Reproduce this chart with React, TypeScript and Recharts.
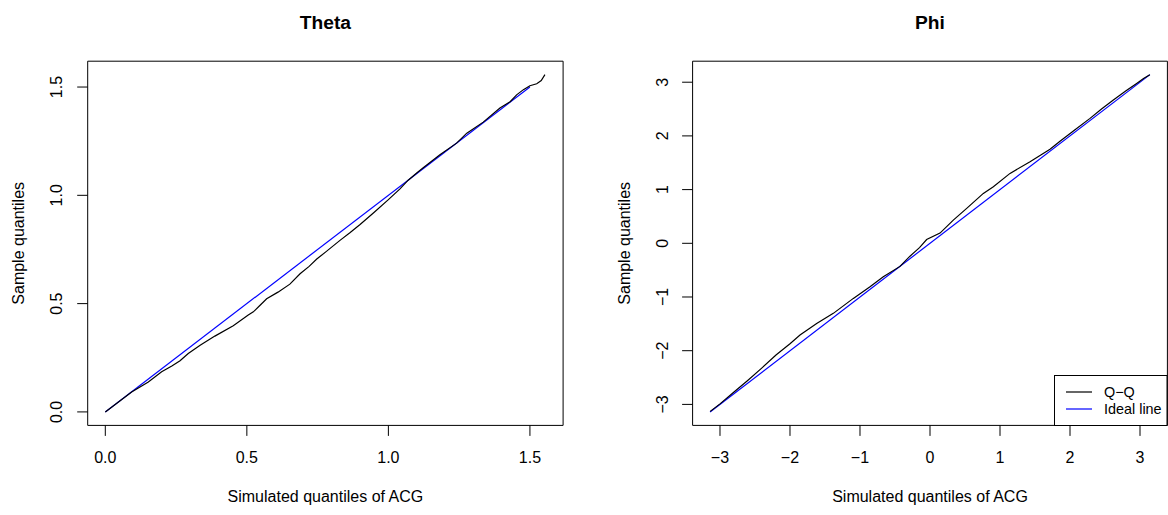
import React from 'react';
import { LineChart, Line, XAxis, YAxis, ReferenceArea } from 'recharts';

// ---- Theta panel data (simulated quantiles of ACG vs sample quantiles) ----
const thetaSim = [0, 0.05, 0.093, 0.152, 0.199, 0.235, 0.264, 0.293, 0.335, 0.387, 0.452, 0.505, 0.523, 0.545, 0.57, 0.61, 0.652, 0.688, 0.72, 0.747, 0.78, 0.829, 0.864, 0.9, 0.95, 1.0, 1.041, 1.07, 1.1, 1.123, 1.182, 1.241, 1.277, 1.335, 1.394, 1.43, 1.453, 1.477, 1.5, 1.524, 1.54, 1.553];
const thetaSample = [0, 0.049, 0.092, 0.138, 0.185, 0.212, 0.236, 0.27, 0.308, 0.35, 0.398, 0.447, 0.462, 0.49, 0.522, 0.553, 0.59, 0.638, 0.672, 0.706, 0.74, 0.792, 0.827, 0.865, 0.922, 0.98, 1.03, 1.07, 1.103, 1.127, 1.187, 1.241, 1.287, 1.338, 1.403, 1.432, 1.464, 1.488, 1.506, 1.515, 1.53, 1.557];
const thetaIdeal = [0, 1.5];
const thetaTicks = [0, 0.5, 1, 1.5];

// ---- Phi panel data ----
const phiSim = [-3.14, -3.0, -2.8, -2.6, -2.4, -2.2, -2.0, -1.857, -1.619, -1.381, -1.095, -0.857, -0.667, -0.429, -0.286, -0.15, -0.048, 0.143, 0.333, 0.524, 0.762, 0.905, 1.143, 1.429, 1.6, 1.714, 1.857, 2.048, 2.286, 2.45, 2.619, 2.8, 2.952, 3.05, 3.14];
const phiSample = [-3.13, -2.99, -2.77, -2.55, -2.32, -2.08, -1.87, -1.709, -1.492, -1.305, -1.026, -0.81, -0.624, -0.43, -0.24, -0.08, 0.07, 0.19, 0.432, 0.65, 0.929, 1.052, 1.302, 1.518, 1.66, 1.75, 1.9, 2.09, 2.326, 2.5, 2.667, 2.84, 2.978, 3.07, 3.14];
const phiIdeal = [-3.1416, 3.1416];
const phiTicks = [-3, -2, -1, 0, 1, 2, 3];

const thetaXDomain: [number, number] = [-0.0622, 1.6172];
const thetaYDomain: [number, number] = [-0.0623, 1.6193];
const phiDomain: [number, number] = [-3.3912, 3.3912];

const FONT = '"Liberation Sans", Arial, Helvetica, sans-serif';

const thetaQQ = thetaSim.map((x, i) => ({ x, y: thetaSample[i] }));
const thetaLine = thetaIdeal.map((x) => ({ x, y: x }));
const phiQQ = phiSim.map((x, i) => ({ x, y: phiSample[i] }));
const phiLine = phiIdeal.map((x) => ({ x, y: x }));

const fmt1 = (v: number) => v.toFixed(1);
const fmtInt = (v: number) => (v < 0 ? '\u2212' + Math.abs(v) : String(v));

const makeXTick = (fmt: (v: number) => string) => (props: any) => {
  const { x, y, payload } = props;
  return (
    <text x={x} y={y + 27.3} textAnchor="middle" fontSize={16} fontFamily={FONT} fill="#000">
      {fmt(payload.value)}
    </text>
  );
};

const makeYTick = (fmt: (v: number) => string, off: number) => (props: any) => {
  const { x, y, payload } = props;
  return (
    <text
      transform={`translate(${x - off}, ${y}) rotate(-90)`}
      textAnchor="middle"
      fontSize={16}
      fontFamily={FONT}
      fill="#000"
    >
      {fmt(payload.value)}
    </text>
  );
};

const XAX_H = 30;
const YAX_W = 40;
const PLOT_TOP = 61.2;
const PLOT_BOTTOM = 425.4;

export default function App() {
  return (
    <div style={{ position: 'absolute', left: 0, top: 0, width: 1168, height: 515, background: '#fff' }}>
      <div style={{ position: 'absolute', left: 0, top: 0 }}>
        <LineChart
          width={584}
          height={515}
          margin={{ top: PLOT_TOP, right: 584 - 563.1, bottom: 515 - PLOT_BOTTOM - XAX_H, left: 87.7 - YAX_W }}
        >
          <XAxis
            type="number"
            dataKey="x"
            domain={thetaXDomain}
            allowDataOverflow
            ticks={thetaTicks}
            interval={0}
            height={XAX_H}
            axisLine={false}
            tickSize={10.5}
            tickMargin={0}
            tickLine={{ stroke: '#000' }}
            tick={makeXTick(fmt1)}
          />
          <YAxis
            type="number"
            dataKey="y"
            domain={thetaYDomain}
            allowDataOverflow
            ticks={thetaTicks}
            interval={0}
            width={YAX_W}
            axisLine={false}
            tickSize={10.5}
            tickMargin={0}
            tickLine={{ stroke: '#000' }}
            tick={makeYTick(fmt1, 14.9)}
          />
          <ReferenceArea
            x1={thetaXDomain[0]}
            x2={thetaXDomain[1]}
            y1={thetaYDomain[0]}
            y2={thetaYDomain[1]}
            fill="none"
            stroke="#000"
            strokeWidth={1}
            ifOverflow="visible"
          />
          <Line data={thetaLine} dataKey="y" name="Ideal line" stroke="#0000ff" strokeWidth={1.2} dot={false} isAnimationActive={false} type="linear" />
          <Line data={thetaQQ} dataKey="y" name="Q-Q" stroke="#000" strokeWidth={1.2} dot={false} isAnimationActive={false} type="linear" />
        </LineChart>
      </div>
      <div style={{ position: 'absolute', left: 584, top: 0 }}>
        <LineChart
          width={584}
          height={515}
          margin={{ top: PLOT_TOP, right: 584 - 583.4, bottom: 515 - PLOT_BOTTOM - XAX_H, left: 108.6 - YAX_W }}
        >
          <XAxis
            type="number"
            dataKey="x"
            domain={phiDomain}
            allowDataOverflow
            ticks={phiTicks}
            interval={0}
            height={XAX_H}
            axisLine={false}
            tickSize={10.5}
            tickMargin={0}
            tickLine={{ stroke: '#000' }}
            tick={makeXTick(fmtInt)}
          />
          <YAxis
            type="number"
            dataKey="y"
            domain={phiDomain}
            allowDataOverflow
            ticks={phiTicks}
            interval={0}
            width={YAX_W}
            axisLine={false}
            tickSize={10.5}
            tickMargin={0}
            tickLine={{ stroke: '#000' }}
            tick={makeYTick(fmtInt, 13.8)}
          />
          <ReferenceArea
            x1={phiDomain[0]}
            x2={phiDomain[1]}
            y1={phiDomain[0]}
            y2={phiDomain[1]}
            fill="none"
            stroke="#000"
            strokeWidth={1}
            ifOverflow="visible"
          />
          <Line data={phiLine} dataKey="y" name="Ideal line" stroke="#0000ff" strokeWidth={1.2} dot={false} isAnimationActive={false} type="linear" />
          <Line data={phiQQ} dataKey="y" name="Q-Q" stroke="#000" strokeWidth={1.2} dot={false} isAnimationActive={false} type="linear" />
        </LineChart>
      </div>
      <svg
        width={1168}
        height={515}
        style={{ position: 'absolute', left: 0, top: 0, pointerEvents: 'none' }}
        fontFamily={FONT}
      >
        <text x={325.4} y={29} textAnchor="middle" fontSize={19.2} fontWeight="bold" fill="#000">Theta</text>
        <text x={930} y={29} textAnchor="middle" fontSize={19.2} fontWeight="bold" fill="#000">Phi</text>
        <text x={325.4} y={502} textAnchor="middle" fontSize={16} fill="#000">Simulated quantiles of ACG</text>
        <text x={930} y={502} textAnchor="middle" fontSize={16} fill="#000">Simulated quantiles of ACG</text>
        <text transform="translate(23.5, 243.3) rotate(-90)" textAnchor="middle" fontSize={16} fill="#000">Sample quantiles</text>
        <text transform="translate(629.5, 243.3) rotate(-90)" textAnchor="middle" fontSize={16} fill="#000">Sample quantiles</text>
        <rect x={1054.5} y={375.5} width={112.5} height={50} fill="#fff" stroke="#000" strokeWidth={1} />
        <line x1={1066} x2={1092} y1={392} y2={392} stroke="#000" strokeWidth={1.2} />
        <line x1={1066} x2={1092} y1={409} y2={409} stroke="#0000ff" strokeWidth={1.2} />
        <text x={1104} y={397} fontSize={14.4} fill="#000">Q{'\u2212'}Q</text>
        <text x={1104} y={414} fontSize={14.4} fill="#000">Ideal line</text>
      </svg>
    </div>
  );
}
